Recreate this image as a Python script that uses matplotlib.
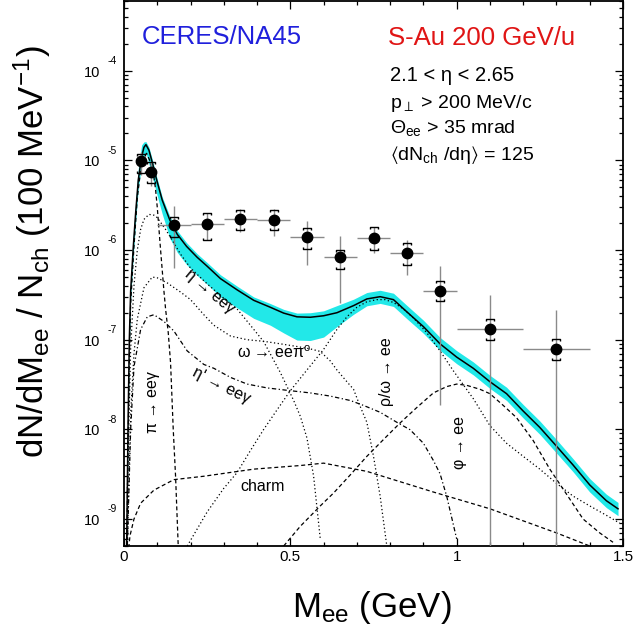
import numpy as np
import matplotlib
matplotlib.use('Agg')
import matplotlib.pyplot as plt
from matplotlib.path import Path
from matplotlib.ticker import MultipleLocator, LogLocator, NullFormatter
from matplotlib import transforms

plt.rcParams['font.family'] = ['Liberation Sans', 'DejaVu Sans']
plt.rcParams['mathtext.fontset'] = 'custom'
plt.rcParams['mathtext.rm'] = 'Liberation Sans'
plt.rcParams['mathtext.it'] = 'Liberation Sans:italic'
plt.rcParams['mathtext.bf'] = 'Liberation Sans:bold'
plt.rcParams['mathtext.fallback'] = 'stixsans'

# ---------------- data ----------------
# measured points
mass_pts = [0.05, 0.08, 0.15, 0.25, 0.35, 0.45, 0.55, 0.65, 0.75, 0.85, 0.95, 1.1, 1.3]
bin_half = [0.01, 0.01, 0.05, 0.05, 0.05, 0.05, 0.05, 0.05, 0.05, 0.05, 0.05, 0.1, 0.1]
yield_pts = [9.75e-6, 7.5e-6, 1.88e-6, 1.97e-6, 2.22e-6, 2.18e-6, 1.39e-6, 8.4e-7, 1.36e-6, 9.3e-7, 3.47e-7, 1.33e-7, 7.96e-8]
stat_hi = [1.25e-5, 9.66e-6, 3.13e-6, 2.61e-6, 2.9e-6, 2.9e-6, 2.09e-6, 1.42e-6, 1.82e-6, 1.28e-6, 6.58e-7, 3.18e-7, 2.17e-7]
stat_lo = [6.9e-6, 5.13e-6, 6.37e-7, 1.31e-6, 1.6e-6, 1.42e-6, 6.87e-7, 2.59e-7, 9.35e-7, 5.32e-7, 1.89e-8, 1e-12, 1e-12]
syst_hi = [1.19e-5, 9.5e-6, 2.36e-6, 2.61e-6, 2.82e-6, 2.82e-6, 1.78e-6, 9.9e-7, 1.82e-6, 1.21e-6, 4.48e-7, 1.71e-7, 1.02e-7]
syst_lo = [7.3e-6, 5.6e-6, 1.41e-6, 1.31e-6, 1.66e-6, 1.69e-6, 1.04e-6, 6.2e-7, 9.9e-7, 6.87e-7, 2.68e-7, 1.0e-7, 5.89e-8]

# total cocktail with systematic band
total_m = [0.008, 0.012, 0.016, 0.02, 0.028, 0.035, 0.043, 0.053, 0.06, 0.066, 0.075, 0.085, 0.098,
           0.115, 0.138, 0.16, 0.188, 0.22, 0.25, 0.29, 0.34, 0.39, 0.44, 0.48, 0.52, 0.56, 0.6,
           0.64, 0.69, 0.73, 0.77, 0.81, 0.85, 0.9, 0.95, 1.0, 1.05, 1.1, 1.15, 1.2, 1.25, 1.3,
           1.35, 1.4, 1.45, 1.485]
total_y = [5e-10, 1e-8, 1e-7, 3.5e-7, 1.1e-6, 2.6e-6, 6.1e-6, 1.1e-5, 1.4e-5, 1.5e-5, 1.3e-5, 9.5e-6, 6.1e-6,
           3.6e-6, 2.15e-6, 1.5e-6, 1.1e-6, 8.3e-7, 6.6e-7, 4.8e-7, 3.6e-7, 2.75e-7, 2.3e-7, 1.98e-7, 1.8e-7, 1.78e-7, 1.85e-7,
           2.0e-7, 2.4e-7, 2.85e-7, 3.02e-7, 2.8e-7, 2.05e-7, 1.4e-7, 9e-8, 6.4e-8, 4.8e-8, 3.4e-8, 2.5e-8, 1.6e-8, 1.05e-8, 6.5e-9,
           4e-9, 2.4e-9, 1.6e-9, 1.3e-9]
band_hi = [6.75e-10, 1.35e-8, 1.35e-7, 4.7e-7, 1.49e-6, 3.5e-6, 8.2e-6, 1.49e-5, 1.61e-5, 1.62e-5, 1.4e-5, 1.03e-5, 6.6e-6,
           3.9e-6, 2.37e-6, 1.65e-6, 1.21e-6, 9.1e-7, 7.25e-7, 5.3e-7, 3.96e-7, 3.0e-7, 2.53e-7, 2.18e-7, 1.98e-7, 2.0e-7, 2.1e-7,
           2.4e-7, 2.83e-7, 3.36e-7, 3.56e-7, 3.3e-7, 2.42e-7, 1.65e-7, 1.06e-7, 7.55e-8, 5.65e-8, 4.0e-8, 2.95e-8, 1.89e-8, 1.24e-8, 7.7e-9,
           4.7e-9, 2.83e-9, 1.89e-9, 1.53e-9]
band_lo = [4e-10, 8e-9, 8e-8, 2.8e-7, 8.8e-7, 2.08e-6, 4.9e-6, 8.8e-6, 1.12e-5, 1.23e-5, 9.1e-6, 6.65e-6, 4.27e-6,
           2.52e-6, 1.35e-6, 9.45e-7, 6.9e-7, 5.2e-7, 4.15e-7, 3.0e-7, 2.27e-7, 1.73e-7, 1.45e-7, 1.19e-7, 9.9e-8, 9.8e-8, 1.07e-7,
           1.4e-7, 1.92e-7, 2.39e-7, 2.54e-7, 2.35e-7, 1.72e-7, 1.18e-7, 7.6e-8, 5.4e-8, 4.05e-8, 2.86e-8, 2.1e-8, 1.34e-8, 8.8e-9, 5.45e-9,
           3.36e-9, 2.0e-9, 1.34e-9, 1.09e-9]

# cocktail components
pi0_m = [0.008, 0.012, 0.016, 0.02, 0.03, 0.04, 0.05, 0.06, 0.068, 0.08, 0.09, 0.095, 0.1, 0.11, 0.12, 0.125, 0.133, 0.14, 0.148, 0.155, 0.163]
pi0_y = [3e-10, 6e-9, 6e-8, 2.5e-7, 1.1e-6, 3.8e-6, 7.8e-6, 1.1e-5, 1.2e-5, 9.5e-6, 6.5e-6, 4.7e-6, 3.0e-6, 1.0e-6, 3.5e-7, 2.2e-7, 1.2e-7, 5.5e-8, 1e-8, 3e-9, 5e-10]

eta_m = [0.01, 0.02, 0.03, 0.04, 0.05, 0.06, 0.075, 0.09, 0.1, 0.125, 0.15, 0.17, 0.2, 0.25, 0.3, 0.34, 0.38, 0.42, 0.47, 0.51, 0.53, 0.55, 0.57, 0.59]
eta_y = [2e-9, 8e-8, 4e-7, 1.0e-6, 1.7e-6, 2.2e-6, 2.5e-6, 2.45e-6, 2.3e-6, 1.7e-6, 1.2e-6, 9e-7, 6.3e-7, 4.2e-7, 2.9e-7, 2.2e-7, 1.45e-7, 9.5e-8, 4.3e-8, 2.1e-8, 1.4e-8, 8e-9, 3e-9, 6e-10]

omd_m = [0.01, 0.02, 0.03, 0.04, 0.06, 0.085, 0.1, 0.13, 0.17, 0.2, 0.24, 0.27, 0.32, 0.37, 0.42, 0.47, 0.52, 0.56, 0.59, 0.62, 0.64, 0.67, 0.69, 0.71, 0.73, 0.75, 0.77, 0.79]
omd_y = [5e-10, 1.5e-8, 7e-8, 1.7e-7, 3.8e-7, 5e-7, 4.9e-7, 4.3e-7, 3.4e-7, 2.8e-7, 1.9e-7, 1.45e-7, 1.1e-7, 1.0e-7, 9.6e-8, 9.0e-8, 8.4e-8, 7.9e-8, 7.4e-8, 5.8e-8, 4.6e-8, 3.4e-8, 2.8e-8, 1.8e-8, 1.2e-8, 5e-9, 1.8e-9, 5e-10]

etap_m = [0.01, 0.02, 0.03, 0.05, 0.07, 0.09, 0.12, 0.15, 0.19, 0.24, 0.27, 0.32, 0.37, 0.43, 0.5, 0.56, 0.62, 0.68, 0.72, 0.77, 0.82, 0.86, 0.9, 0.93, 0.95, 0.97, 1.0]
etap_y = [5e-10, 1e-8, 5e-8, 1.3e-7, 1.8e-7, 1.9e-7, 1.6e-7, 1.25e-7, 7.5e-8, 5.3e-8, 4.8e-8, 3.8e-8, 3.2e-8, 2.9e-8, 2.7e-8, 2.55e-8, 2.35e-8, 2.1e-8, 1.85e-8, 1.55e-8, 1.2e-8, 9.9e-9, 7e-9, 4.5e-9, 3.2e-9, 1.8e-9, 6e-10]

rho_m = [0.19, 0.25, 0.3, 0.34, 0.38, 0.42, 0.46, 0.5, 0.55, 0.6, 0.64, 0.67, 0.7, 0.73, 0.76, 0.785, 0.81, 0.84, 0.87, 0.91, 0.95, 0.99,
         1.05, 1.1, 1.15, 1.2, 1.25, 1.3, 1.35, 1.4, 1.45, 1.49]
rho_y = [5e-10, 1.2e-9, 2.2e-9, 3.3e-9, 5.8e-9, 1e-8, 1.65e-8, 2.7e-8, 4.6e-8, 7.8e-8, 1.3e-7, 1.8e-7, 2.3e-7, 2.65e-7, 2.8e-7, 2.8e-7, 2.6e-7, 2.2e-7, 1.75e-7, 1.2e-7, 7.5e-8, 4.5e-8,
         2.2e-8, 1.1e-8, 7e-9, 5e-9, 3.6e-9, 2.5e-9, 1.8e-9, 1.4e-9, 1.1e-9, 9e-10]

phi_m = [0.48, 0.53, 0.59, 0.63, 0.68, 0.73, 0.78, 0.83, 0.88, 0.93, 0.97, 1.0, 1.03, 1.07, 1.1, 1.14, 1.18, 1.23, 1.28, 1.33, 1.38, 1.43, 1.47]
phi_y = [5e-10, 8.3e-10, 1.4e-9, 1.95e-9, 3.1e-9, 5e-9, 7.7e-9, 1.18e-8, 1.75e-8, 2.55e-8, 3.0e-8, 3.2e-8, 3.1e-8, 2.8e-8, 2.5e-8, 1.85e-8, 1.35e-8, 7.5e-9, 3.6e-9, 1.9e-9, 1.0e-9, 7e-10, 5.5e-10]

charm_m = [0.012, 0.018, 0.03, 0.05, 0.09, 0.15, 0.24, 0.39, 0.53, 0.6, 0.73, 0.93, 1.1, 1.3, 1.4, 1.5]
charm_y = [4e-10, 6.5e-10, 1.0e-9, 1.5e-9, 2.1e-9, 2.75e-9, 3e-9, 3.6e-9, 3.95e-9, 4.2e-9, 3.4e-9, 2e-9, 1.3e-9, 7e-10, 5e-10, 3.8e-10]

# axis ticks / labels
ytick_vals = [1e-9, 1e-8, 1e-7, 1e-6, 1e-5, 1e-4]
ytick_exps = ['-9', '-8', '-7', '-6', '-5', '-4']
xtick_vals = [0, 0.5, 1.0, 1.5]
xtick_labs = ['0', '0.5', '1', '1.5']

# ---------------- figure ----------------
fig = plt.figure(figsize=(6.35, 6.39), dpi=100)
ax = fig.add_axes([124/635, 93/639, 499/635, 545/639])
ax.set_yscale('log')
ax.set_xlim(0, 1.5)
ax.set_ylim(5.0e-10, 6.0e-4)

cyan = '#22e8e8'
ax.fill_between(total_m, band_lo, band_hi, color=cyan, lw=0, zorder=1)

dash = (0, (3.2, 2.2))
dot = (0, (1.0, 2.0))
dashdot = (0, (3.5, 2, 1, 2))
lw = 0.9
ax.plot(pi0_m, pi0_y, color='k', lw=lw, ls=dash, zorder=2)
ax.plot(eta_m, eta_y, color='k', lw=lw, ls=dot, zorder=2)
ax.plot(omd_m, omd_y, color='k', lw=lw, ls=dot, zorder=2)
ax.plot(etap_m, etap_y, color='k', lw=lw, ls=dashdot, zorder=2)
ax.plot(rho_m, rho_y, color='k', lw=lw, ls=dot, zorder=2)
ax.plot(phi_m, phi_y, color='k', lw=lw, ls=dash, zorder=2)
ax.plot(charm_m, charm_y, color='k', lw=lw, ls=dash, zorder=2)
ax.plot(total_m, total_y, color='k', lw=1.1, zorder=3)

# data points with statistical errors
ym = np.array(yield_pts)
yerr = [ym - np.array(stat_lo), np.array(stat_hi) - ym]
ax.errorbar(mass_pts, yield_pts, xerr=bin_half, yerr=yerr, fmt='none',
            ecolor='#8a8a8a', elinewidth=1.0, capsize=0, zorder=4)
ax.plot(mass_pts, yield_pts, 'o', color='k', ms=7.5, zorder=6)

# systematic brackets
top_br = Path([(-1, -0.55), (-1, 0), (1, 0), (1, -0.55)],
              [Path.MOVETO, Path.LINETO, Path.LINETO, Path.LINETO])
bot_br = Path([(-1, 0.55), (-1, 0), (1, 0), (1, 0.55)],
              [Path.MOVETO, Path.LINETO, Path.LINETO, Path.LINETO])
ax.plot(mass_pts, syst_hi, ls='none', marker=top_br, ms=6, mfc='none', mec='k', mew=1.0, zorder=5)
ax.plot(mass_pts, syst_lo, ls='none', marker=bot_br, ms=6, mfc='none', mec='k', mew=1.0, zorder=5)

# ticks
ax.xaxis.set_major_locator(MultipleLocator(0.5))
ax.xaxis.set_minor_locator(MultipleLocator(0.1))
ax.yaxis.set_major_locator(LogLocator(base=10, numticks=20))
ax.yaxis.set_minor_locator(LogLocator(base=10, subs=np.arange(2, 10), numticks=20))
ax.yaxis.set_minor_formatter(NullFormatter())
ax.tick_params(which='both', direction='in', top=True, right=True,
               labelleft=False, labelbottom=False, width=0.9)
ax.tick_params(which='major', length=6)
ax.tick_params(which='minor', length=3)
for s in ax.spines.values():
    s.set_linewidth(1.3)

ytr = ax.get_yaxis_transform()
for v, e in zip(ytick_vals, ytick_exps):
    ax.text(-0.048, v, '10', transform=transforms.offset_copy(ytr, fig=fig, y=-1.5, units='points'),
            ha='right', va='center', fontsize=10.5)
    ax.text(-0.034, v, e, transform=transforms.offset_copy(ytr, fig=fig, y=7, units='points'),
            ha='left', va='center', fontsize=7.5)
xtr = ax.get_xaxis_transform()
for v, l in zip(xtick_vals, xtick_labs):
    ax.text(v, -0.021, l, transform=xtr, ha='center', va='center', fontsize=11)

# axis titles
fig.text(372/635, 1 - 608/639, r'M$_{\mathregular{ee}}$ (GeV)', ha='center', va='center', fontsize=25)
fig.text(32/635, 1 - 252/639, r'dN/dM$_{\mathregular{ee}}$ / N$_{\mathregular{ch}}$ (100 MeV$^{\mathregular{-1}}$)',
         rotation=90, ha='center', va='center', fontsize=25)

# header texts
ax.text(0.036, 0.921, 'CERES/NA45', transform=ax.transAxes, color='#2020dc', fontsize=18.5, va='baseline')
ax.text(0.529, 0.919, 'S-Au 200 GeV/u', transform=ax.transAxes, color='#e01515', fontsize=18.5, va='baseline')
ax.text(0.533, 0.853, '2.1 < η < 2.65', transform=ax.transAxes, fontsize=14.5, va='baseline')
ax.text(0.533, 0.8037, r'p$_{\perp}$ > 200 MeV/c', transform=ax.transAxes, fontsize=14, va='baseline')
ax.text(0.533, 0.758, r'Θ$_{\mathregular{ee}}$ > 35 mrad', transform=ax.transAxes, fontsize=14, va='baseline')
ax.text(0.533, 0.708, r'$\langle$dN$_{\mathregular{ch}}$ /dη$\rangle$ = 125', transform=ax.transAxes, fontsize=14, va='baseline')

# curve labels
lab_fs = 11.5
ax.text(0.258, 3.5e-7, 'η → eeγ', rotation=-40, ha='center', va='center', fontsize=lab_fs)
ax.text(0.450, 7.2e-8, r'ω → eeπ$^{\mathregular{o}}$', ha='center', va='center', fontsize=lab_fs)
ax.text(0.294, 3.1e-8, "η' → eeγ", rotation=-27, ha='center', va='center', fontsize=lab_fs)
ax.text(0.087, 2.0e-8, 'π → eeγ', rotation=90, ha='center', va='center', fontsize=lab_fs)
ax.text(0.417, 2.3e-9, 'charm', ha='center', va='center', fontsize=lab_fs)
ax.text(0.790, 4.4e-8, 'ρ/ω → ee', rotation=90, ha='center', va='center', fontsize=lab_fs)
ax.text(1.009, 7.1e-9, 'φ → ee', rotation=90, ha='center', va='center', fontsize=lab_fs)

fig.savefig('out.png', dpi=100)
